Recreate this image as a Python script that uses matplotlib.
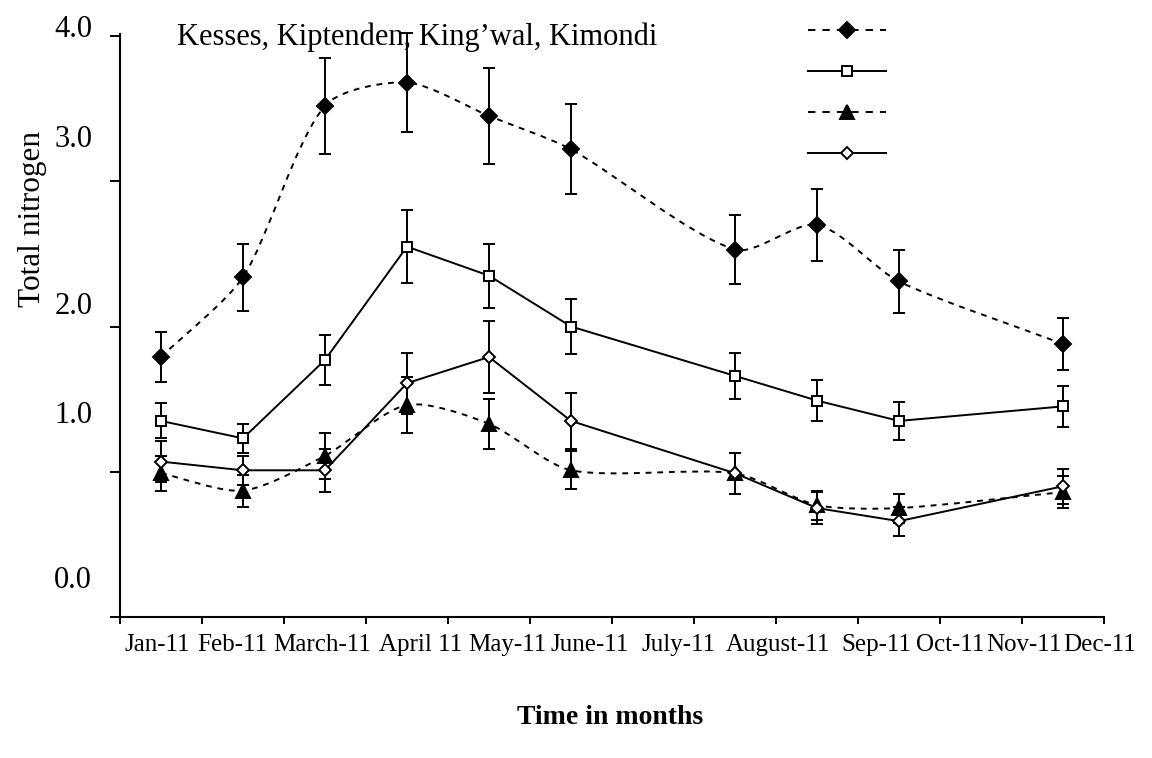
import numpy as np
import matplotlib
matplotlib.use("Agg")
import matplotlib.pyplot as plt
from matplotlib.path import Path
from matplotlib.patches import PathPatch
from matplotlib.lines import Line2D
from matplotlib.ticker import FixedLocator, FixedFormatter, NullFormatter

plt.rcParams['font.family'] = ['Liberation Serif', 'DejaVu Serif']

# ---- data -------------------------------------------------------------
month_labels = ['Jan-11', 'Feb-11', 'March-11', 'April 11', 'May-11', 'June-11',
                'July-11', 'August-11', 'Sep-11', 'Oct-11', 'Nov-11', 'Dec-11']
sample_month = [0, 1, 2, 3, 4, 5, 7, 8, 9, 11]   # months that were sampled

kesses        = [1.79, 2.34, 3.52, 3.68, 3.45, 3.22, 2.53, 2.70, 2.31, 1.88]
kesses_err    = [0.17, 0.23, 0.33, 0.34, 0.33, 0.31, 0.24, 0.25, 0.22, 0.18]
kiptenden     = [1.35, 1.23, 1.77, 2.55, 2.35, 2.00, 1.66, 1.49, 1.35, 1.45]
kiptenden_err = [0.12, 0.10, 0.17, 0.25, 0.22, 0.19, 0.16, 0.14, 0.13, 0.14]
kingwal       = [0.99, 0.87, 1.11, 1.46, 1.33, 1.01, 0.99, 0.77, 0.75, 0.86]
kingwal_err   = [0.12, 0.11, 0.16, 0.19, 0.17, 0.13, 0.14, 0.10, 0.10, 0.11]
kimondi       = [1.07, 1.01, 1.01, 1.61, 1.79, 1.35, 0.99, 0.75, 0.66, 0.90]
kimondi_err   = [0.14, 0.10, 0.15, 0.21, 0.25, 0.19, 0.14, 0.11, 0.10, 0.12]

y_tick_values = [0, 1, 2, 3, 4]
y_tick_text = ['0.0', '1.0', '2.0', '3.0', '4.0']

# label placement along the axes (layout only)
y_label_pos = [0.277, 1.413, 2.165, 3.313, 4.070]
x_label_pos = [0.457, 1.372, 2.470, 3.668, 4.726, 5.732,
               6.817, 8.024, 9.220, 10.122, 11.024, 11.951]


# ---- helpers ----------------------------------------------------------
def smooth_path(ax, xs, ys, tension=0.25):
    """Smoothed Bezier curve through the points, built in screen space
    (tangent from the neighbours, handle length from the segment length)."""
    pts = ax.transData.transform(np.column_stack([xs, ys]).astype(float))
    n = len(pts)

    def tangent(i):
        a = pts[max(i - 1, 0)]
        b = pts[min(i + 1, n - 1)]
        d = b - a
        return d / np.hypot(*d)

    verts = [pts[0]]
    codes = [Path.MOVETO]
    for i in range(n - 1):
        p1, p2 = pts[i], pts[i + 1]
        seg = np.hypot(*(p2 - p1))
        c1 = p1 + tangent(i) * seg * tension
        c2 = p2 - tangent(i + 1) * seg * tension
        verts += [c1, c2, p2]
        codes += [Path.CURVE4] * 3
    verts = ax.transData.inverted().transform(np.array(verts))
    return Path(verts, codes)


# ---- figure -----------------------------------------------------------
W, H = 1152, 758
fig = plt.figure(figsize=(W / 100, H / 100), dpi=100)
ax = fig.add_axes([120 / W, 1 - 617 / H, 984 / W, (617 - 21.5) / H])
ax.set_xlim(0, 12)
ax.set_ylim(0, 4.1)

x = np.array(sample_month) + 0.5
LW = 1.4
DASH = (0, (3.0, 3.0))

series = [
    (kesses, kesses_err, 'D', 'black', 8.2, 'curve'),
    (kiptenden, kiptenden_err, 's', 'white', 7.6, 'straight'),
    (kingwal, kingwal_err, '^', 'black', 9.6, 'curve'),
    (kimondi, kimondi_err, 'D', 'white', 6.4, 'straight'),
]

handles = []
for vals, errs, mk, fc, ms, kind in series:
    ax.errorbar(x, vals, yerr=errs, fmt='none', ecolor='black',
                elinewidth=LW, capsize=4, capthick=LW, zorder=3)
    if kind == 'curve':
        ax.add_patch(PathPatch(smooth_path(ax, x, vals), fill=False,
                               edgecolor='black', lw=LW, linestyle=DASH,
                               zorder=2))
        ax.plot(x, vals, ls='none', marker=mk, ms=ms, mfc=fc, mec='black',
                mew=LW, zorder=4)
        handles.append(Line2D([], [], color='black', lw=LW,
                              linestyle=(0, (3.8, 3.6)),
                              marker=mk, ms=ms, mfc=fc, mec='black', mew=LW))
    else:
        ax.plot(x, vals, '-', color='black', lw=LW, marker=mk, ms=ms,
                mfc=fc, mec='black', mew=LW, zorder=4)
        handles.append(Line2D([], [], color='black', lw=LW, marker=mk,
                              ms=ms, mfc=fc, mec='black', mew=LW))

# ---- axes styling -----------------------------------------------------
for side in ('top', 'right'):
    ax.spines[side].set_visible(False)
for side in ('left', 'bottom'):
    ax.spines[side].set_linewidth(1.5)
ax.spines['left'].set_bounds(0, 4.015)

ax.xaxis.set_major_locator(FixedLocator(np.arange(0, 13)))
ax.xaxis.set_major_formatter(NullFormatter())
ax.xaxis.set_minor_locator(FixedLocator(x_label_pos))
ax.xaxis.set_minor_formatter(FixedFormatter(month_labels))
ax.tick_params(axis='x', which='major', direction='out', length=5, width=1.4)
ax.tick_params(axis='x', which='minor', length=0, pad=12, labelsize=18)

ax.yaxis.set_major_locator(FixedLocator(y_tick_values))
ax.yaxis.set_major_formatter(NullFormatter())
ax.yaxis.set_minor_locator(FixedLocator(y_label_pos))
ax.yaxis.set_minor_formatter(FixedFormatter(y_tick_text))
ax.tick_params(axis='y', which='major', direction='out', length=7, width=1.4)
ax.tick_params(axis='y', which='minor', length=0, pad=20, labelsize=22)

ax.set_ylabel('Total nitrogen', fontsize=22.5, rotation=90,
              ha='center', va='center', rotation_mode='default')
ax.yaxis.set_label_coords(-0.0885, 0.668)
ax.set_xlabel('Time in months', fontsize=20, fontweight='bold',
              ha='center', va='center')
ax.xaxis.set_label_coords(0.498, -0.168)

ax.text(0.0576, 0.9605, 'Kesses, Kiptenden, King\u2019wal, Kimondi',
        transform=ax.transAxes, fontsize=22, ha='left', va='baseline')

ax.legend(handles, [''] * 4, loc='upper left',
          bbox_to_anchor=(808 / W, 1 - 25 / H), bbox_transform=fig.transFigure,
          frameon=False, fontsize=10, handlelength=5.6, handleheight=0.7,
          labelspacing=2.02, borderpad=0, handletextpad=0, borderaxespad=0,
          numpoints=1)

fig.savefig('out.png', dpi=100)
